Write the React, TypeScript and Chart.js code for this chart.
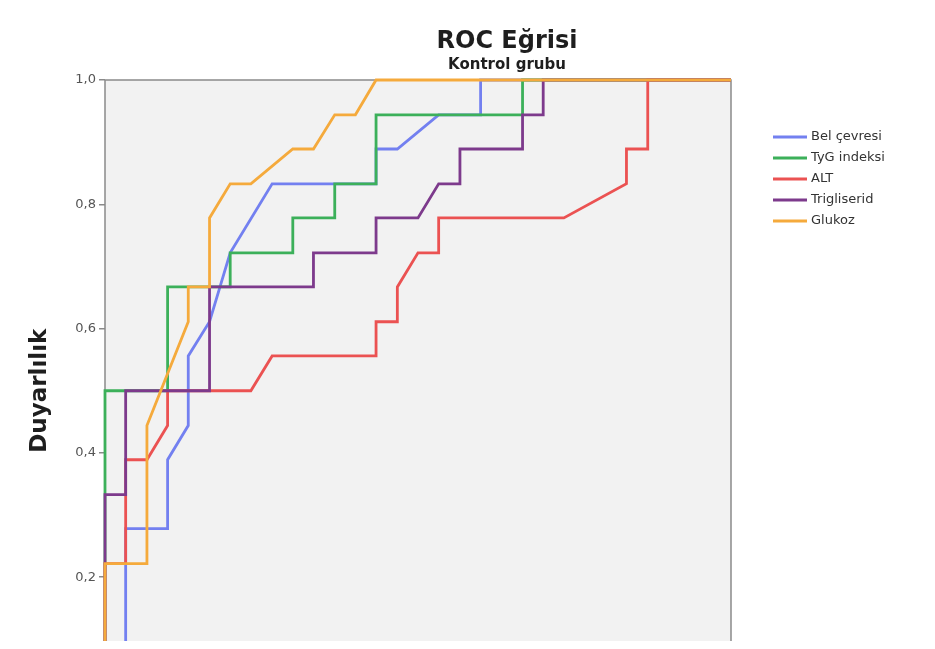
import React, { useEffect, useRef } from 'react';
import { Chart, registerables } from 'chart.js';

Chart.register(...registerables);

const chartTitle = 'ROC Eğrisi';
const chartSubtitle = 'Kontrol grubu';
const yAxisTitle = 'Duyarlılık';
const xAxisTitle = '1 - Özgüllük';

const seriesNames = ['Bel çevresi', 'TyG indeksi', 'ALT', 'Trigliserid', 'Glukoz'];
const seriesColors = ['#7380f0', '#3cb05a', '#eb5252', '#7d3a8c', '#f5aa3c'];

const yTickValues = [0, 0.2, 0.4, 0.6, 0.8, 1.0];
const yTickLabels = ['0,0', '0,2', '0,4', '0,6', '0,8', '1,0'];
const xTickValues = [0, 0.2, 0.4, 0.6, 0.8, 1.0];
const xTickLabels = ['0,0', '0,2', '0,4', '0,6', '0,8', '1,0'];

// x = 1 - Özgüllük, y = Duyarlılık
const belX = [0, 0.033, 0.033, 0.1, 0.1, 0.133, 0.133, 0.167, 0.2, 0.267, 0.433, 0.433, 0.467, 0.533, 0.6, 0.6, 1];
const belY = [0, 0, 0.278, 0.278, 0.389, 0.444, 0.556, 0.611, 0.722, 0.833, 0.833, 0.889, 0.889, 0.944, 0.944, 1, 1];

const tygX = [0, 0, 0.1, 0.1, 0.2, 0.2, 0.3, 0.3, 0.367, 0.367, 0.433, 0.433, 0.667, 0.667, 1];
const tygY = [0, 0.5, 0.5, 0.667, 0.667, 0.722, 0.722, 0.778, 0.778, 0.833, 0.833, 0.944, 0.944, 1, 1];

const altX = [0, 0, 0.033, 0.033, 0.067, 0.1, 0.1, 0.233, 0.267, 0.433, 0.433, 0.467, 0.467, 0.5, 0.533, 0.533, 0.733, 0.833, 0.833, 0.867, 0.867, 1];
const altY = [0, 0.222, 0.222, 0.389, 0.389, 0.444, 0.5, 0.5, 0.556, 0.556, 0.611, 0.611, 0.667, 0.722, 0.722, 0.778, 0.778, 0.833, 0.889, 0.889, 1, 1];

const trigX = [0, 0, 0.033, 0.033, 0.167, 0.167, 0.333, 0.333, 0.433, 0.433, 0.5, 0.533, 0.567, 0.567, 0.667, 0.667, 0.7, 0.7, 1];
const trigY = [0, 0.333, 0.333, 0.5, 0.5, 0.667, 0.667, 0.722, 0.722, 0.778, 0.778, 0.833, 0.833, 0.889, 0.889, 0.944, 0.944, 1, 1];

const gluX = [0, 0, 0.067, 0.067, 0.133, 0.133, 0.167, 0.167, 0.2, 0.233, 0.3, 0.333, 0.367, 0.4, 0.433, 1];
const gluY = [0, 0.222, 0.222, 0.444, 0.611, 0.667, 0.667, 0.778, 0.833, 0.833, 0.889, 0.889, 0.944, 0.944, 1, 1];

const seriesX = [belX, tygX, altX, trigX, gluX];
const seriesY = [belY, tygY, altY, trigY, gluY];

const FONT = '"DejaVu Sans", "Liberation Sans", sans-serif';

const framePlugin = {
  id: 'frame',
  beforeDatasetsDraw(chart: any) {
    const { ctx, chartArea } = chart;
    const { left, top, right, bottom } = chartArea;
    ctx.save();
    ctx.fillStyle = '#f2f2f2';
    ctx.fillRect(left, top, right - left, bottom - top);
    ctx.strokeStyle = '#8a8a8a';
    ctx.lineWidth = 1.5;
    ctx.strokeRect(left, top, right - left, bottom - top);
    ctx.restore();
  },
};

const titlePlugin = {
  id: 'titles',
  afterDraw(chart: any) {
    const { ctx, chartArea } = chart;
    const cx = chartArea.left + 402;
    ctx.save();
    ctx.textAlign = 'center';
    ctx.textBaseline = 'middle';
    ctx.fillStyle = '#1e1e1e';
    ctx.font = `bold 24px ${FONT}`;
    ctx.fillText(chartTitle, cx, chartArea.top - 38);
    ctx.font = `bold 15px ${FONT}`;
    ctx.fillText(chartSubtitle, cx, chartArea.top - 15);
    ctx.restore();
  },
};

const legendPlugin = {
  id: 'customLegend',
  afterDraw(chart: any) {
    const { ctx, chartArea } = chart;
    const x0 = chartArea.right + 42;
    ctx.save();
    ctx.font = `13px ${FONT}`;
    ctx.textAlign = 'left';
    ctx.textBaseline = 'middle';
    seriesNames.forEach((name, i) => {
      const y = chartArea.top + 57 + i * 21;
      ctx.strokeStyle = seriesColors[i];
      ctx.lineWidth = 2.8;
      ctx.beginPath();
      ctx.moveTo(x0, y);
      ctx.lineTo(x0 + 34, y);
      ctx.stroke();
      ctx.fillStyle = '#333333';
      ctx.fillText(name, x0 + 38, y);
    });
    ctx.restore();
  },
};

export default function App() {
  const ref = useRef<HTMLCanvasElement>(null);

  useEffect(() => {
    if (!ref.current) return;
    const datasets = seriesNames.map((name, i) => ({
      label: name,
      data: seriesX[i].map((x, j) => ({ x, y: seriesY[i][j] })),
      borderColor: seriesColors[i],
      backgroundColor: seriesColors[i],
      borderWidth: 2.8,
      pointRadius: 0,
      pointHoverRadius: 0,
      fill: false,
      tension: 0,
      clip: false as any,
      order: seriesNames.length - 1 - i,
    }));

    const chart = new Chart(ref.current, {
      type: 'line',
      data: { datasets },
      options: {
        animation: false,
        responsive: false,
        parsing: false as any,
        layout: { padding: { left: 0, top: 72, right: 196, bottom: 0 } },
        plugins: {
          legend: { display: false },
          title: { display: false },
          tooltip: { enabled: false },
        },
        scales: {
          x: {
            type: 'linear',
            min: 0,
            max: 1,
            afterBuildTicks: (s: any) => {
              s.ticks = xTickValues.map((v) => ({ value: v }));
            },
            afterFit: (s: any) => {
              s.height = 66.5;
            },
            ticks: {
              callback: (v: any) => xTickLabels[xTickValues.indexOf(Number(v))] ?? '',
              color: '#555555',
              font: { family: FONT, size: 13 },
              padding: 3,
            },
            grid: { drawOnChartArea: false, tickLength: 6, color: '#8a8a8a', lineWidth: 1.5 },
            border: { display: false },
            title: {
              display: true,
              text: xAxisTitle,
              color: '#1e1e1e',
              font: { family: FONT, size: 22, weight: 'bold' },
            },
          },
          y: {
            type: 'linear',
            min: 0,
            max: 1,
            afterBuildTicks: (s: any) => {
              s.ticks = yTickValues.map((v) => ({ value: v }));
            },
            afterFit: (s: any) => {
              s.width = 97;
            },
            ticks: {
              callback: (v: any) => yTickLabels[yTickValues.indexOf(Number(v))] ?? '',
              color: '#555555',
              font: { family: FONT, size: 13 },
              padding: 3,
            },
            grid: { drawOnChartArea: false, tickLength: 6, color: '#8a8a8a', lineWidth: 1.5 },
            border: { display: false },
            title: {
              display: true,
              text: yAxisTitle,
              color: '#1e1e1e',
              font: { family: FONT, size: 23, weight: 'bold' },
              padding: { top: 18, bottom: 0 },
            },
          },
        },
      },
      plugins: [framePlugin, titlePlugin, legendPlugin],
    });
    return () => chart.destroy();
  }, []);

  return (
    <div style={{ width: 919, height: 633, overflow: 'hidden', background: '#ffffff' }}>
      <canvas ref={ref} width={919} height={760} style={{ display: 'block' }} />
    </div>
  );
}
